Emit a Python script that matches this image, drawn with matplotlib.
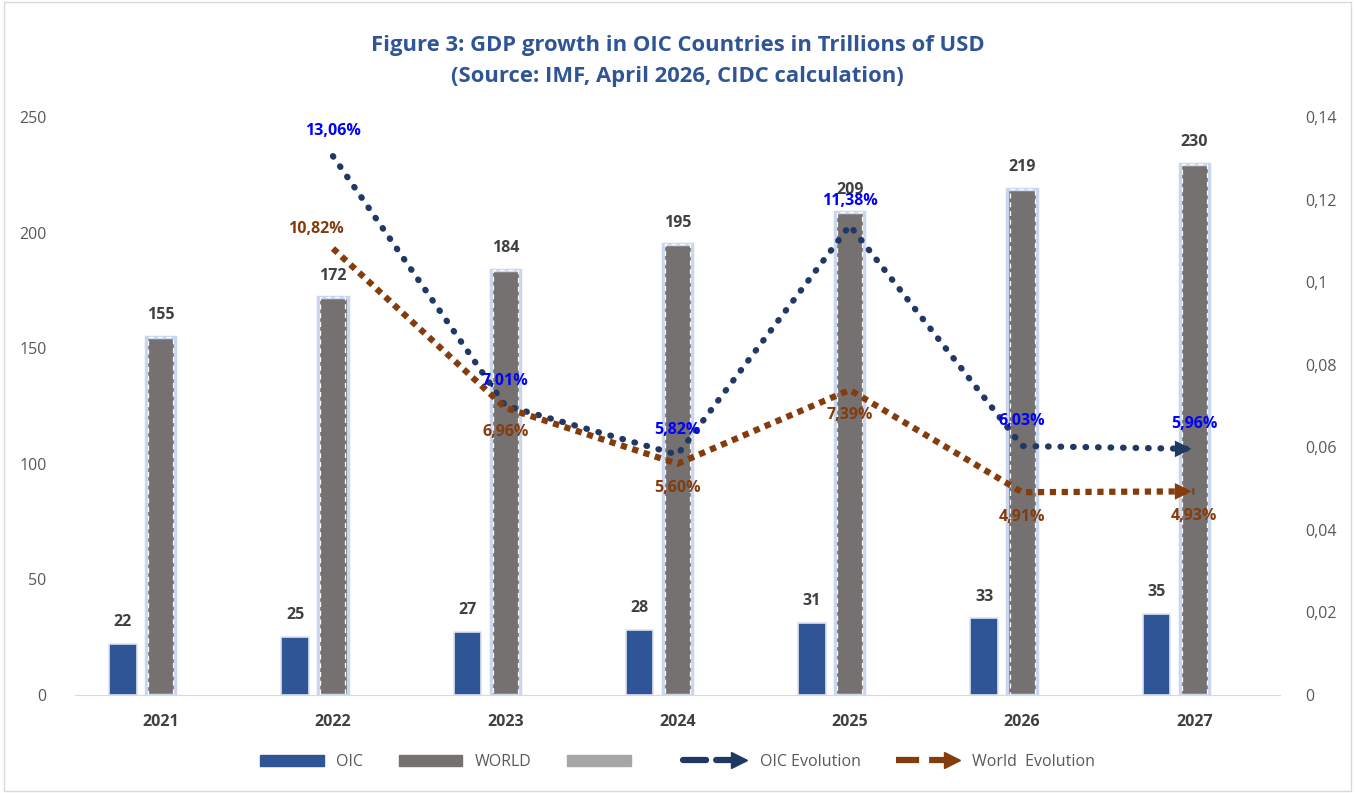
import matplotlib.pyplot as plt
import numpy as np
from matplotlib.lines import Line2D
from matplotlib.patches import Patch
from matplotlib.legend_handler import HandlerLine2D

plt.rcParams['font.family'] = ['Open Sans', 'DejaVu Sans']

years = ['2021', '2022', '2023', '2024', '2025', '2026', '2027']
oic = [22, 25, 27, 28, 31, 33, 35]
world = [155, 172, 184, 195, 209, 219, 230]
oic_evo = [np.nan, 0.1306, 0.0701, 0.0582, 0.1138, 0.0603, 0.0596]
world_evo = [np.nan, 0.1082, 0.0696, 0.0560, 0.0739, 0.0491, 0.0493]
oic_evo_lbl = ['', '13,06%', '7,01%', '5,82%', '11,38%', '6,03%', '5,96%']
world_evo_lbl = ['', '10,82%', '6,96%', '5,60%', '7,39%', '4,91%', '4,93%']

c_oic = '#2F5597'
c_world = '#767171'
c_oicline = '#1F3864'
c_wline = '#843C0C'


class ArrowLegend(HandlerLine2D):
    def create_artists(self, legend, orig, xd, yd, w, h, fs, trans):
        y = h / 2 - yd
        ln = Line2D([-xd, -xd + w * 0.8], [y, y], color=orig.get_color(),
                    lw=orig.get_linewidth(), linestyle=orig.get_linestyle(),
                    dash_capstyle=orig.get_dash_capstyle(), transform=trans)
        mk = Line2D([-xd + w * 0.88], [y], marker='>', color=orig.get_color(),
                    markersize=11, linestyle='none', transform=trans)
        return [ln, mk]


fig = plt.figure(figsize=(13.55, 7.93), dpi=100)
ax = fig.add_axes([0.055, 0.124, 0.89, 0.728])
ax2 = ax.twinx()

x = np.arange(len(years))
ax.bar(x - 0.22, oic, width=0.16, color=c_oic, edgecolor='#DCE4F2', lw=1.2, zorder=2)
ax.bar(x, world, width=0.17, color=c_world, edgecolor='#C9D6EE', lw=2.5, zorder=2)
ax.bar(x, world, width=0.145, color='none', edgecolor='white', lw=0.9,
       linestyle=(0, (4, 3)), zorder=3)

for i in range(len(years)):
    ax.text(x[i] - 0.22, oic[i] + 6, str(oic[i]), ha='center', va='bottom',
            fontsize=11.5, fontweight='bold', color='#404040')
    ax.text(x[i], world[i] + 6, str(world[i]), ha='center', va='bottom',
            fontsize=11.5, fontweight='bold', color='#404040')

ax.set_ylim(0, 250)
ax.set_xlim(-0.5, 6.5)
ax.set_yticks([0, 50, 100, 150, 200, 250])
ax.set_xticks(x)
ax.set_xticklabels(years, fontsize=11.5, fontweight='bold', color='#404040')
ax.tick_params(axis='y', length=0, labelsize=11.5, labelcolor='#595959', pad=20)
ax.tick_params(axis='x', length=0, pad=14)
for s in ['top', 'right', 'left']:
    ax.spines[s].set_visible(False)
ax.spines['bottom'].set_color('#D9D9D9')

ax2.plot(x[1:], oic_evo[1:], color=c_oicline, lw=4.5, linestyle=(0, (0.1, 1.9)),
         dash_capstyle='round', zorder=4)
ax2.plot(x[1:], world_evo[1:], color=c_wline, lw=4.5, linestyle=(0, (1, 0.9)),
         dash_capstyle='butt', zorder=4)
ax2.annotate('', xy=(x[-1], oic_evo[-1]), xytext=(x[-1] - 0.05, oic_evo[-1]),
             arrowprops=dict(arrowstyle='-|>', color=c_oicline, lw=0,
                             mutation_scale=30), zorder=5)
ax2.annotate('', xy=(x[-1], world_evo[-1]), xytext=(x[-1] - 0.05, world_evo[-1]),
             arrowprops=dict(arrowstyle='-|>', color=c_wline, lw=0,
                             mutation_scale=30), zorder=5)

for i in range(1, len(years)):
    ax2.annotate(oic_evo_lbl[i], (x[i], oic_evo[i]), xytext=(0, 12),
                 textcoords='offset points', ha='center', va='bottom',
                 fontsize=11.5, fontweight='bold', color='#0000FF', zorder=6)
    off = (-12, 8) if i == 1 else (0, -12)
    ax2.annotate(world_evo_lbl[i], (x[i], world_evo[i]), xytext=off,
                 textcoords='offset points', ha='center',
                 va='bottom' if i == 1 else 'top',
                 fontsize=11.5, fontweight='bold', color=c_wline, zorder=6)

ax2.set_ylim(0, 0.14)
r_ticks = [0, 0.02, 0.04, 0.06, 0.08, 0.1, 0.12, 0.14]
ax2.set_yticks(r_ticks)
ax2.set_yticklabels(['0', '0,02', '0,04', '0,06', '0,08', '0,1', '0,12', '0,14'])
ax2.tick_params(axis='y', length=0, labelsize=11.5, labelcolor='#595959', pad=18)
for s in ['top', 'right', 'left', 'bottom']:
    ax2.spines[s].set_visible(False)

fig.text(0.5, 0.943, 'Figure 3: GDP growth in OIC Countries in Trillions of USD',
         ha='center', va='center', fontsize=15.8, fontweight='bold', color='#2F5597')
fig.text(0.5, 0.903, '(Source: IMF, April 2026, CIDC calculation)',
         ha='center', va='center', fontsize=15.8, fontweight='bold', color='#2F5597')

h_oic_line = Line2D([], [], color=c_oicline, lw=4.5, linestyle=(0, (0.1, 1.9)),
                    dash_capstyle='round')
h_w_line = Line2D([], [], color=c_wline, lw=4.5, linestyle=(0, (1, 0.9)))
handles = [Patch(color=c_oic), Patch(color=c_world), Patch(color='#A6A6A6'),
           h_oic_line, h_w_line]
labels = ['OIC', 'WORLD', ' ', 'OIC Evolution', 'World  Evolution']
fig.legend(handles, labels, loc='center', bbox_to_anchor=(0.5, 0.039), ncol=5,
           frameon=False, fontsize=11.5, labelcolor='#595959', handlelength=4,
           handleheight=0.6, columnspacing=2.2,
           handler_map={h_oic_line: ArrowLegend(), h_w_line: ArrowLegend()})

fig.patches.append(plt.Rectangle((0.003, 0.003), 0.994, 0.994, transform=fig.transFigure,
                                 fill=False, edgecolor='#D9D9D9', lw=1))

fig.savefig('out.png', dpi=100)
